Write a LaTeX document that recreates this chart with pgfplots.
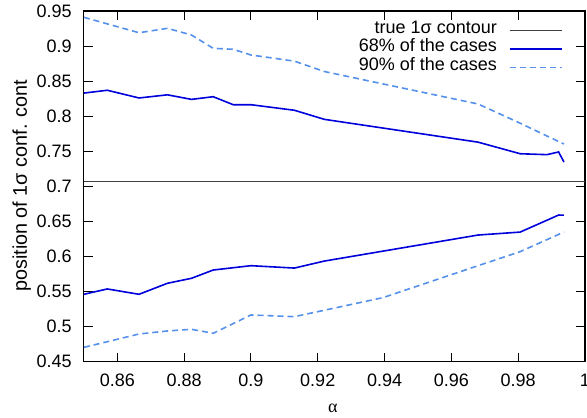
\documentclass[border=0pt]{standalone}
\usepackage{pgfplots}
\pgfplotsset{compat=1.18}
\usepackage{fontspec}
\setmainfont{Liberation Sans}
\newfontfamily\greekserif{Liberation Serif}
\definecolor{cdark}{RGB}{0,0,220}
\definecolor{clight}{RGB}{85,145,235}
\newcommand{\bigf}{\fontsize{18}{21}\selectfont}
\begin{document}
\bigf
\begin{tikzpicture}
\begin{axis}[
  at={(83.9pt,56.3pt)}, anchor=south west,
  scale only axis, width=501.1pt, height=350.7pt,
  xmin=0.85, xmax=1, ymin=0.45, ymax=0.95,
  xtick={0.86,0.88,0.9,0.92,0.94,0.96,0.98,1},
  xticklabels={0.86,0.88,0.9,0.92,0.94,0.96,0.98,1},
  ytick={0.45,0.5,0.55,0.6,0.65,0.7,0.75,0.8,0.85,0.9,0.95},
  yticklabels={0.45,0.5,0.55,0.6,0.65,0.7,0.75,0.8,0.85,0.9,0.95},
  tick align=inside, major tick length=9pt,
  axis line style={line width=1.1pt, black},
  tick style={line width=1.1pt, black},
  ticklabel style={font=\bigf},
  yticklabel style={xshift=-6pt},
  xticklabel style={yshift=-6pt},
  xlabel={{\greekserif α}},
  xlabel style={at={(rel axis cs:0.497,-0.132)}, anchor=center, font=\bigf},
  ylabel={position of 1σ conf. cont},
  ylabel style={at={(rel axis cs:-0.124,0.502)}, anchor=center, rotate=0, font=\fontsize{19.8}{22}\selectfont},
  legend style={draw=none, fill=none, at={(rel axis cs:0.9555,0.973)}, anchor=north east,
    inner sep=0pt, row sep=0pt, column sep=12pt,
    font=\bigf,
    nodes={font=\bigf, inner sep=0pt, text height=12.5pt, text depth=6.2pt}},
  legend cell align=right,
  legend plot pos=right,
  legend image code/.code={\draw[#1] (0pt,0pt) -- (52pt,0pt);},
]
\addplot[black!75, line width=1.0pt] coordinates {(0.85,0.7071) (1,0.7071)};
\addlegendentry{true 1σ contour}
\addplot[cdark, line width=1.6pt] coordinates {
(0.85,0.833) (0.857,0.837) (0.8665,0.826) (0.875,0.8305) (0.8822,0.824)
(0.8887,0.8278) (0.8947,0.8164) (0.9,0.8164) (0.913,0.8085) (0.922,0.7955)
(0.968,0.763) (0.9806,0.7465) (0.9886,0.7452) (0.9921,0.749) (0.9937,0.7347)};
\addlegendentry{68\% of the cases}
\addplot[clight, line width=1.6pt, dash pattern=on 6pt off 4pt] coordinates {
(0.85,0.941) (0.8665,0.919) (0.875,0.9253) (0.8822,0.9158) (0.8887,0.8968)
(0.8947,0.8954) (0.9,0.8873) (0.913,0.8785) (0.922,0.8637) (0.968,0.8174)
(0.9806,0.790) (0.9886,0.7718) (0.9937,0.7604)};
\addlegendentry{90\% of the cases}
\addplot[cdark, line width=1.6pt, forget plot] coordinates {
(0.85,0.5461) (0.857,0.5537) (0.8665,0.5461) (0.875,0.5618) (0.8822,0.5689)
(0.8887,0.5807) (0.9,0.5869) (0.913,0.5835) (0.922,0.5935) (0.968,0.6306)
(0.9806,0.6348) (0.9921,0.6591) (0.9937,0.659)};
\addplot[clight, line width=1.6pt, dash pattern=on 6pt off 4pt, forget plot] coordinates {
(0.85,0.4705) (0.857,0.4785) (0.8665,0.4895) (0.875,0.4938) (0.8822,0.4962)
(0.8887,0.4905) (0.9,0.5166) (0.913,0.5142) (0.9395,0.5413) (0.968,0.5869)
(0.9806,0.6069) (0.9937,0.6349)};
\end{axis}
\pgfresetboundingbox
\path (0,0) rectangle (587pt,418pt);
\end{tikzpicture}
\end{document}
